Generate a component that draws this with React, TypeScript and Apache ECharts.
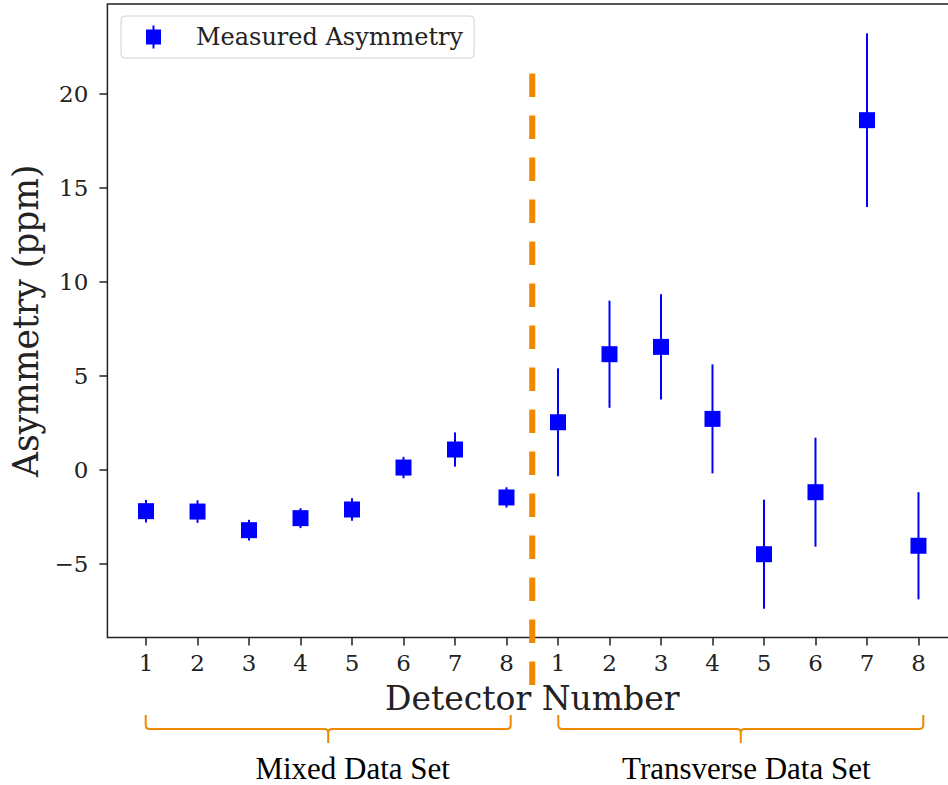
import React, { useEffect, useRef } from "react";
import * as echarts from "echarts";

// ---- data ----
const detectorLabels = ["1", "2", "3", "4", "5", "6", "7", "8"];
const mixedValues = [-2.18, -2.2, -3.19, -2.55, -2.09, 0.14, 1.1, -1.45];
const mixedErrors = [0.6, 0.6, 0.55, 0.53, 0.6, 0.57, 0.91, 0.54];
const transverseValues = [2.55, 6.17, 6.56, 2.73, -4.47, -1.17, 18.62, -4.02];
const transverseErrors = [2.87, 2.85, 2.8, 2.9, 2.9, 2.9, 4.62, 2.85];
const yTicks = [-5, 0, 5, 10, 15, 20];
const groupNames = ["Mixed Data Set", "Transverse Data Set"];
const seriesName = "Measured Asymmetry";
const axisTitles = { x: "Detector Number", y: "Asymmetry (ppm)" };

// axis limits (matplotlib auto-limits with 5% margins)
const xMin = 0.25;
const xMax = 16.75;
const yMin = -8.9;
const yMax = 24.8;
// divider between the two data sets
const dividerX = 8.5;
const dividerTop = 21.1;
const dividerBottom = -11.46;

const BLUE = "#0000ff";
const ORANGE = "#ef8900";
const INK = "#222222";

const BRACE_D =
  "M0,0 V10 Q0,14 4,14 H178.5 Q182.5,14 182.5,18 V28 M182.5,18 Q182.5,14 186.5,14 H361 Q365,14 365,10 V0";
echarts.graphic.registerShape("brace", echarts.graphic.extendPath(BRACE_D, {}));

const LEGEND_ICON =
  "path://M6.5,0 H8.5 V4 H15 V19 H8.5 V23 H6.5 V19 H0 V4 H6.5 Z";

export default function App() {
  const ref = useRef<HTMLDivElement>(null);

  useEffect(() => {
    if (!ref.current) return;
    const chart = echarts.init(ref.current, null, { renderer: "svg" });

    const xs: number[] = [];
    const points: number[][] = [];
    const bars: number[][] = [];
    detectorLabels.forEach((_, i) => {
      const x = i + 1;
      xs.push(x);
      points.push([x, mixedValues[i]]);
      bars.push([x, mixedValues[i] - mixedErrors[i], mixedValues[i] + mixedErrors[i]]);
    });
    detectorLabels.forEach((_, i) => {
      const x = i + 1 + detectorLabels.length;
      xs.push(x);
      points.push([x, transverseValues[i]]);
      bars.push([
        x,
        transverseValues[i] - transverseErrors[i],
        transverseValues[i] + transverseErrors[i],
      ]);
    });

    const option: any = {
      animation: false,
      backgroundColor: "#ffffff",
      grid: {
        left: 107.4,
        top: 4,
        width: 849.7,
        height: 633.5,
        show: true,
        borderColor: INK,
        borderWidth: 1.5,
        backgroundColor: "transparent",
      },
      legend: {
        data: [{ name: seriesName, icon: LEGEND_ICON }],
        left: 121,
        top: 16,
        padding: [9, 11, 9, 25],
        itemWidth: 15,
        itemHeight: 23,
        backgroundColor: "#ffffff",
        borderColor: "#d0d0d0",
        borderWidth: 1,
        borderRadius: 4,
        selectedMode: false,
        itemStyle: { opacity: 1 },
        textStyle: {
          fontFamily: "DejaVu Serif",
          fontSize: 24,
          color: INK,
          padding: [0, 0, 0, 30],
        },
      },
      xAxis: {
        type: "value",
        min: xMin,
        max: xMax,
        name: axisTitles.x,
        nameLocation: "middle",
        nameGap: 44,
        nameTextStyle: { fontFamily: "DejaVu Serif", fontSize: 33, color: INK },
        axisLine: { show: false, onZero: false },
        splitLine: { show: false },
        axisTick: {
          show: true,
          length: 8,
          lineStyle: { color: INK, width: 1.5 },
          customValues: xs,
        },
        axisLabel: {
          margin: 14,
          fontFamily: "DejaVu Serif",
          fontSize: 23,
          color: INK,
          customValues: xs,
          formatter: (v: number) =>
            detectorLabels[(Math.round(v) - 1) % detectorLabels.length],
        },
      },
      yAxis: {
        type: "value",
        min: yMin,
        max: yMax,
        name: axisTitles.y,
        nameLocation: "middle",
        nameRotate: 90,
        nameGap: 62,
        nameTextStyle: { fontFamily: "DejaVu Serif", fontSize: 34.5, color: INK },
        axisLine: { show: false, onZero: false },
        splitLine: { show: false },
        axisTick: {
          show: true,
          length: 8,
          lineStyle: { color: INK, width: 1.5 },
          customValues: yTicks,
        },
        axisLabel: {
          margin: 19,
          fontFamily: "DejaVu Serif",
          fontSize: 23,
          color: INK,
          customValues: yTicks,
          formatter: (v: number) => (v < 0 ? "\u2212" + Math.abs(v) : String(v)),
        },
      },
      series: [
        {
          type: "custom",
          name: "divider",
          clip: false,
          silent: true,
          data: [[dividerX, dividerTop, dividerBottom]],
          encode: { x: 0, y: [1, 2] },
          z: 1,
          renderItem: (params: any, api: any) => {
            const p1 = api.coord([api.value(0), api.value(1)]);
            const p2 = api.coord([api.value(0), api.value(2)]);
            return {
              type: "line",
              shape: { x1: p1[0], y1: p1[1], x2: p2[0], y2: p2[1] },
              style: { stroke: ORANGE, lineWidth: 6, lineDash: [23.5, 18.5] },
            };
          },
        },
        {
          type: "custom",
          name: "errorbars",
          silent: true,
          data: bars,
          encode: { x: 0, y: [1, 2] },
          z: 2,
          renderItem: (params: any, api: any) => {
            const p1 = api.coord([api.value(0), api.value(1)]);
            const p2 = api.coord([api.value(0), api.value(2)]);
            return {
              type: "line",
              shape: { x1: p1[0], y1: p1[1], x2: p2[0], y2: p2[1] },
              style: { stroke: BLUE, lineWidth: 2 },
            };
          },
        },
        {
          type: "scatter",
          name: seriesName,
          data: points,
          symbol: "rect",
          symbolSize: 16,
          itemStyle: { color: BLUE, opacity: 1 },
          z: 3,
        },
      ],
      graphic: [
        {
          type: "brace",
          x: 145.7,
          y: 715,
          style: { stroke: ORANGE, lineWidth: 2, fill: "none" },
        },
        {
          type: "brace",
          x: 558.3,
          y: 715,
          style: { stroke: ORANGE, lineWidth: 2, fill: "none" },
        },
        {
          type: "text",
          x: 352.7,
          y: 768,
          style: {
            text: groupNames[0],
            fill: "#000000",
            font: '31px "Liberation Serif"',
            textAlign: "center",
            textVerticalAlign: "middle",
          },
        },
        {
          type: "text",
          x: 746.3,
          y: 768,
          style: {
            text: groupNames[1],
            fill: "#000000",
            font: '31px "Liberation Serif"',
            textAlign: "center",
            textVerticalAlign: "middle",
          },
        },
      ],
    };

    chart.setOption(option);
    return () => chart.dispose();
  }, []);

  return (
    <div
      style={{
        position: "fixed",
        left: 0,
        top: 0,
        width: 948,
        height: 785,
        overflow: "hidden",
        background: "#ffffff",
      }}
    >
      <div ref={ref} style={{ width: 970, height: 785 }} />
    </div>
  );
}
